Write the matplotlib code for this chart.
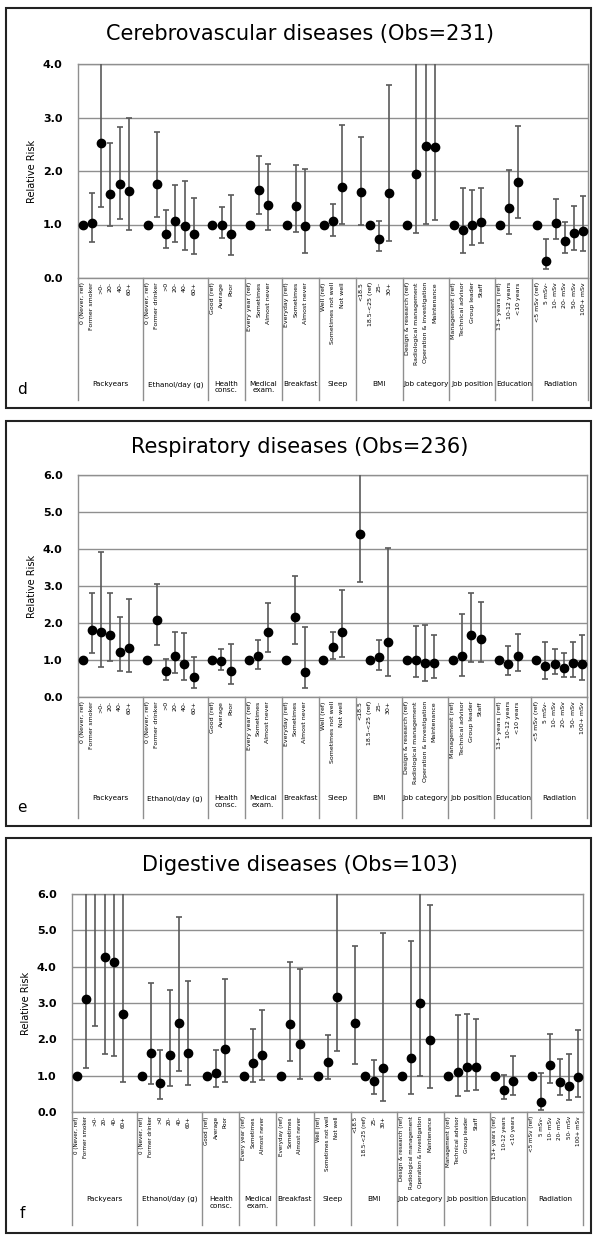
import numpy as np
import matplotlib
matplotlib.use("Agg")
import matplotlib.pyplot as plt
from matplotlib.patches import Rectangle

plt.rcParams['font.family'] = ['DejaVu Sans']

# Categories (group name, level labels)
groups = ["Packyears", "Ethanol/day (g)", "Health\nconsc.", "Medical\nexam.", "Breakfast",
          "Sleep", "BMI", "Job category", "Job position", "Education", "Radiation"]
levels = [
    ["0 (Never, ref)", "Former smoker", ">0-", "20-", "40-", "60+"],
    ["0 (Never, ref)", "Former drinker", ">0", "20-", "40-", "60+"],
    ["Good (ref)", "Average", "Poor"],
    ["Every year (ref)", "Sometimes", "Almost never"],
    ["Everyday (ref)", "Sometimes", "Almost never"],
    ["Well (ref)", "Sometimes not well", "Not well"],
    ["<18.5", "18.5-<25 (ref)", "25-", "30+"],
    ["Design & research (ref)", "Radiological management", "Operation & investigation", "Maintenance"],
    ["Management (ref)", "Technical advisor", "Group leader", "Staff"],
    ["13+ years (ref)", "10-12 years", "<10 years"],
    ["<5 mSv (ref)", "5 mSv-", "10- mSv", "20- mSv", "50- mSv", "100+ mSv"],
]
ref_idx = [0, 6, 12, 15, 18, 21, 25, 28, 32, 36, 39]

# Cerebrovascular diseases (Obs=231)
rr_d = [1.00, 1.02, 2.52, 1.57, 1.76, 1.63,
        1.00, 1.76, 0.83, 1.07, 0.98, 0.82,
        1.00, 1.00, 0.82,
        1.00, 1.64, 1.37,
        1.00, 1.35, 0.98,
        1.00, 1.06, 1.71,
        1.60, 1.00, 0.73, 1.58,
        1.00, 1.94, 2.47, 2.45,
        1.00, 0.89, 1.00, 1.05,
        1.00, 1.30, 1.79,
        1.00, 0.32, 1.02, 0.70, 0.84, 0.87]
lo_d = [1.00, 0.67, 1.32, 0.98, 1.10, 0.89,
        1.00, 1.14, 0.56, 0.67, 0.53, 0.45,
        1.00, 0.75, 0.43,
        1.00, 1.19, 0.89,
        1.00, 0.86, 0.47,
        1.00, 0.79, 1.01,
        0.99, 1.00, 0.51, 0.70,
        1.00, 0.84, 1.01, 1.09,
        1.00, 0.47, 0.62, 0.66,
        1.00, 0.83, 1.13,
        1.00, 0.16, 0.73, 0.47, 0.53, 0.50]
hi_d = [1.00, 1.58, 4.60, 2.52, 2.82, 3.00,
        1.00, 2.72, 1.27, 1.73, 1.82, 1.50,
        1.00, 1.32, 1.55,
        1.00, 2.28, 2.14,
        1.00, 2.12, 2.03,
        1.00, 1.39, 2.86,
        2.63, 1.00, 1.06, 3.60,
        1.00, 5.50, 8.00, 7.50,
        1.00, 1.68, 1.65, 1.68,
        1.00, 2.02, 2.84,
        1.00, 0.73, 1.47, 1.04, 1.35, 1.53]

# Respiratory diseases (Obs=236)
rr_e = [1.00, 1.81, 1.76, 1.67, 1.22, 1.32,
        1.00, 2.07, 0.70, 1.10, 0.90, 0.53,
        1.00, 0.96, 0.70,
        1.00, 1.10, 1.76,
        1.00, 2.16, 0.68,
        1.00, 1.35, 1.76,
        4.40, 1.00, 1.07, 1.50,
        1.00, 1.00, 0.92, 0.92,
        1.00, 1.12, 1.67, 1.57,
        1.00, 0.90, 1.11,
        1.00, 0.84, 0.90, 0.79, 0.92, 0.89]
lo_e = [1.00, 1.18, 0.80, 0.98, 0.71, 0.68,
        1.00, 1.41, 0.47, 0.66, 0.47, 0.25,
        1.00, 0.72, 0.35,
        1.00, 0.77, 1.21,
        1.00, 1.44, 0.25,
        1.00, 1.02, 1.08,
        3.12, 1.00, 0.74, 0.56,
        1.00, 0.54, 0.44, 0.51,
        1.00, 0.56, 0.95, 0.95,
        1.00, 0.59, 0.71,
        1.00, 0.49, 0.62, 0.54, 0.54, 0.47]
hi_e = [1.00, 2.81, 3.92, 2.82, 2.16, 2.66,
        1.00, 3.05, 1.04, 1.77, 1.72, 1.07,
        1.00, 1.29, 1.44,
        1.00, 1.55, 2.55,
        1.00, 3.26, 1.90,
        1.00, 1.77, 2.90,
        6.40, 1.00, 1.53, 4.04,
        1.00, 1.92, 1.94, 1.67,
        1.00, 2.24, 2.82, 2.58,
        1.00, 1.37, 1.69,
        1.00, 1.48, 1.29, 1.18, 1.49, 1.67]

# Digestive diseases (Obs=103)
rr_f = [1.00, 3.10, 6.60, 4.27, 4.12, 2.71,
        1.00, 1.63, 0.80, 1.56, 2.46, 1.63,
        1.00, 1.08, 1.73,
        1.00, 1.36, 1.58,
        1.00, 2.42, 1.87,
        1.00, 1.38, 3.17,
        2.44, 1.00, 0.84, 1.20,
        1.00, 1.50, 3.01, 1.97,
        1.00, 1.09, 1.25, 1.25,
        1.00, 0.61, 0.84,
        1.00, 0.28, 1.30, 0.83, 0.72, 0.96]
lo_f = [1.00, 1.22, 2.38, 1.60, 1.53, 0.83,
        1.00, 0.77, 0.36, 0.72, 1.14, 0.74,
        1.00, 0.68, 0.83,
        1.00, 0.83, 0.88,
        1.00, 1.40, 0.90,
        1.00, 0.90, 1.67,
        1.31, 1.00, 0.50, 0.30,
        1.00, 0.50, 0.99, 0.67,
        1.00, 0.44, 0.58, 0.61,
        1.00, 0.36, 0.48,
        1.00, 0.06, 0.80, 0.48, 0.33, 0.40]
hi_f = [1.00, 9.00, 15.0, 10.0, 9.00, 8.00,
        1.00, 3.54, 1.71, 3.37, 5.36, 3.61,
        1.00, 1.71, 3.66,
        1.00, 2.28, 2.81,
        1.00, 4.14, 3.94,
        1.00, 2.13, 6.50,
        4.58, 1.00, 1.42, 4.94,
        1.00, 4.71, 9.00, 5.71,
        1.00, 2.67, 2.69, 2.57,
        1.00, 1.02, 1.55,
        1.00, 1.08, 2.15, 1.46, 1.59, 2.26]

W, H = 595, 1238
fig = plt.figure(figsize=(W / 100, H / 100), dpi=100)


def fx(px):
    return px / W


def fy(py):
    return 1 - py / H


# slot positions: one empty slot after each group
xpos, starts = [], []
slot = 0
for lv in levels:
    starts.append(slot)
    xpos.extend(range(slot, slot + len(lv)))
    slot += len(lv) + 1
xpos = np.array(xpos)
nslots = slot - 1
tick_labels = [lab for lv in levels for lab in lv]
seps = [s - 0.5 for s in starts] + [nslots - 0.5]

panels = [
    dict(title="Cerebrovascular diseases (Obs=231)", letter="d", rr=rr_d, lo=lo_d, hi=hi_d, ymax=4,
         ax_px=(78, 588, 64, 278), frame=(6, 591, 8, 408), title_y=34, sep_y=400, grp_y=381,
         let_y=390, tick_fs=4.5),
    dict(title="Respiratory diseases (Obs=236)", letter="e", rr=rr_e, lo=lo_e, hi=hi_e, ymax=6,
         ax_px=(78, 587, 475, 697), frame=(6, 591, 421, 826), title_y=447, sep_y=818, grp_y=795,
         let_y=808, tick_fs=4.5),
    dict(title="Digestive diseases (Obs=103)", letter="f", rr=rr_f, lo=lo_f, hi=hi_f, ymax=6,
         ax_px=(72, 583, 894, 1112), frame=(6, 591, 838, 1233), title_y=865, sep_y=1225, grp_y=1196,
         let_y=1213, tick_fs=4.1),
]

grid_c = '#8f8f8f'
bar_c = '#5a5a5a'

for p in panels:
    l, r, t, b = p["ax_px"]
    ax = fig.add_axes([fx(l), fy(b), fx(r) - fx(l), (b - t) / H])
    rr = np.array(p["rr"])
    lo = np.array(p["lo"])
    hi = np.array(p["hi"])
    err_lo = rr - lo
    err_hi = hi - rr
    err_lo[ref_idx] = np.nan
    err_hi[ref_idx] = np.nan
    ax.errorbar(xpos, rr, yerr=[err_lo, err_hi], fmt='none', ecolor=bar_c,
                elinewidth=1.2, capsize=2.3, capthick=1.2, zorder=3)
    ax.plot(xpos, rr, 'o', color='black', ms=6, zorder=4)

    ax.set_xlim(-0.5, nslots - 0.5)
    ax.set_ylim(0, p["ymax"])
    yt = np.arange(0, p["ymax"] + 0.5, 1.0)
    ax.set_yticks(yt)
    ax.set_yticklabels([f"{v:.1f}" for v in yt], fontsize=8, fontweight='bold')
    ax.yaxis.grid(True, color=grid_c, lw=1.0)
    ax.set_axisbelow(True)
    ax.tick_params(axis='y', length=0, pad=11)
    ax.set_xticks(xpos)
    ax.set_xticklabels(tick_labels, rotation=90, fontsize=p["tick_fs"], va='top', ha='center')
    ax.tick_params(axis='x', length=0, pad=3)
    for sp in ax.spines.values():
        sp.set_color(grid_c)
        sp.set_linewidth(1.0)
    ax.set_ylabel("Relative Risk", fontsize=7, labelpad=4)

    # group separators below the axis
    depth = (p["sep_y"] - b) / (b - t)
    for s in seps:
        ax.plot([s, s], [0, -depth], color=grid_c, lw=1.0,
                transform=ax.get_xaxis_transform(), clip_on=False)
    for i, g in enumerate(groups):
        cx = (seps[i] + seps[i + 1]) / 2
        ax.text(cx, -(p["grp_y"] - b) / (b - t), g, transform=ax.get_xaxis_transform(),
                ha='center', va='top', fontsize=5.2, linespacing=1.1)

    fl, fr, ft, fb = p["frame"]
    fig.add_artist(Rectangle((fx(fl), fy(fb)), fx(fr) - fx(fl), (fb - ft) / H,
                             transform=fig.transFigure, fill=False, ec='#222222', lw=1.5))
    fig.text(fx(300), fy(p["title_y"]), p["title"], ha='center', va='center', fontsize=15)
    fig.text(fx(22), fy(p["let_y"]), p["letter"], ha='center', va='center', fontsize=11)

fig.savefig("out.png", dpi=100)
